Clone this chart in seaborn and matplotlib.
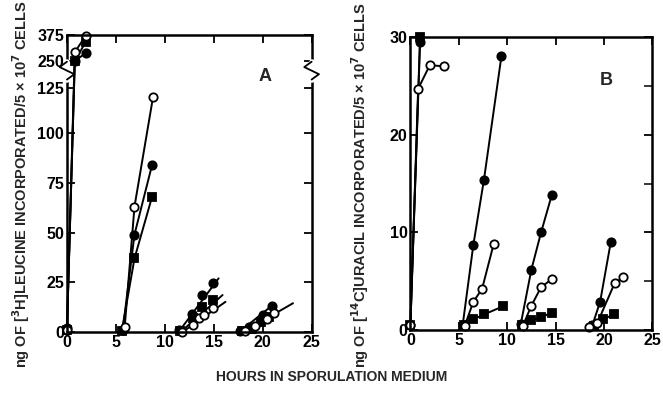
import numpy as np
import pandas as pd
import matplotlib
matplotlib.use("Agg")
import matplotlib.pyplot as plt
import seaborn as sns
from matplotlib.ticker import FixedLocator

sns.set_theme(style="ticks")
plt.rcParams["font.family"] = ["Liberation Sans", "DejaVu Sans"]
plt.rcParams["font.weight"] = "bold"
plt.rcParams["mathtext.default"] = "bf"

## Data (hours, ng incorporated)
# Panel A, [3H]leucine -- one list per pulse group
a_open_x = [[0, 0.8, 1.9], [5.9, 6.9, 8.8], [11.8, 12.9, 13.5, 14.0, 14.9], [18.2, 19.2, 20.4, 21.2]]
a_open_y = [[1, 293, 370], [2.5, 63, 120], [0, 3.5, 7, 8.5, 12], [0.3, 3, 6.5, 9.5]]
a_fill_x = [[0, 0.8, 1.9], [5.7, 6.9, 8.7], [11.4, 12.8, 13.8, 14.9], [17.7, 18.6, 20.0, 21.0]]
a_fill_y = [[2, 250, 288], [1, 49, 84], [1, 9, 18.5, 24.5], [0.5, 2.5, 8.5, 13]]
a_sq_x = [[0, 0.8, 1.9], [5.6, 6.9, 8.7], [11.6, 12.9, 13.8, 14.9], [17.9, 18.9, 19.8, 20.6]]
a_sq_y = [[1, 250, 340], [0.5, 37, 68], [0.5, 7, 12.5, 16], [0.5, 1.5, 5, 7.5]]

# fitted lines drawn through the late groups in A (start, end)
a_fit_x = [[11.4, 15.5], [11.6, 15.9], [11.8, 16.2], [17.6, 21.0], [18.0, 23.1]]
a_fit_y = [[0, 27], [0, 18.6], [0, 15.2], [0, 13.5], [0, 14.5]]

# Panel B, [14C]uracil
b_open_x = [[0, 0.8, 2.0, 3.5], [5.6, 6.5, 7.4, 8.6], [11.6, 12.5, 13.5, 14.6], [18.4, 19.3, 21.1, 22.0]]
b_open_y = [[0.5, 24.7, 27.1, 27.0], [0.4, 2.9, 4.2, 8.8], [0.4, 2.5, 4.4, 5.2], [0.3, 0.7, 4.8, 5.4]]
b_fill_x = [[0, 1.0], [5.4, 6.5, 7.6, 9.4], [11.4, 12.5, 13.5, 14.6], [18.8, 19.6, 20.7]]
b_fill_y = [[0.5, 29.5], [0.5, 8.7, 15.4, 28.0], [0.6, 6.2, 10.0, 13.8], [0.5, 2.9, 9.0]]
b_sq_x = [[0, 1.0], [5.5, 6.5, 7.6, 9.6], [11.5, 12.5, 13.5, 14.6], [19.0, 19.9, 21.0]]
b_sq_y = [[0.5, 30], [0.5, 1.1, 1.6, 2.45], [0.5, 1.0, 1.3, 1.8], [0.4, 1.1, 1.6]]

x_ticks = [0, 5, 10, 15, 20, 25]
a_yticks = [0, 25, 50, 75, 100, 125, 250, 375]
b_yticks = [0, 10, 20, 30]

# broken y axis of panel A: linear to 125, compressed above
brk_data = [0, 100, 125, 250, 375]
brk_disp = [0, 100, 122.7, 136.1, 149.2]


def fwd(v):
    return np.interp(v, brk_data, brk_disp)


def inv(v):
    return np.interp(v, brk_disp, brk_data)


fig = plt.figure(figsize=(6.63, 3.93), dpi=100)
axA = fig.add_axes([0.101, 0.155, 0.369, 0.756])
axB = fig.add_axes([0.619, 0.160, 0.365, 0.746])

kw = dict(color="black", linewidth=1.4, markersize=6, markeredgewidth=1.3,
          sort=False, estimator=None, clip_on=False, legend=False)


def draw(ax, xs, ys, marker, face, lines=True):
    for gx, gy in zip(xs, ys):
        df = pd.DataFrame({"h": gx, "v": gy})
        sns.lineplot(data=df, x="h", y="v", ax=ax, marker=marker,
                     markerfacecolor=face, markeredgecolor="black",
                     linestyle="-" if lines else "none", **kw)


axA.set_yscale("function", functions=(fwd, inv))
# early groups connected, late groups on fitted lines
draw(axA, a_sq_x[:2], a_sq_y[:2], "s", "black")
draw(axA, a_fill_x[:2], a_fill_y[:2], "o", "black")
draw(axA, a_open_x[:2], a_open_y[:2], "o", "white")
for fx, fy in zip(a_fit_x, a_fit_y):
    sns.lineplot(x=fx, y=fy, ax=axA, color="black", linewidth=1.4, sort=False,
                 estimator=None)
draw(axA, a_sq_x[2:], a_sq_y[2:], "s", "black", lines=False)
draw(axA, a_fill_x[2:], a_fill_y[2:], "o", "black", lines=False)
draw(axA, a_open_x[2:], a_open_y[2:], "o", "white", lines=False)

draw(axB, b_sq_x, b_sq_y, "s", "black")
draw(axB, b_fill_x, b_fill_y, "o", "black")
draw(axB, b_open_x, b_open_y, "o", "white")

axA.set_ylim(0, 375)
axA.set_yticks(a_yticks)
axA.set_yticklabels([str(t) for t in a_yticks])
axB.set_ylim(0, 30)
axB.set_yticks(b_yticks)
axB.yaxis.set_minor_locator(FixedLocator([5, 15, 25]))

for ax in (axA, axB):
    ax.set_xlim(0, 25)
    ax.set_xticks(x_ticks)
    ax.set_xlabel("")
    ax.set_ylabel("")
    for s in ax.spines.values():
        s.set_linewidth(1.8)
        s.set_color("black")
    ax.tick_params(direction="in", length=6, width=1.3, top=True, right=True,
                   labelsize=11.5, pad=2, colors="black")
    for lab in ax.get_xticklabels() + ax.get_yticklabels():
        lab.set_fontweight("bold")
axB.tick_params(which="minor", direction="in", length=6, width=1.3,
                left=False, right=True)

# axis break marks on panel A
yb = 0.88
for xb in (0.0, 1.0):
    axA.plot([xb, xb], [yb - 0.03, yb + 0.03], color="white", linewidth=4,
             transform=axA.transAxes, clip_on=False, zorder=5)
    axA.plot([xb, xb - 0.03, xb + 0.03, xb],
             [yb + 0.03, yb + 0.012, yb - 0.012, yb - 0.03],
             color="black", linewidth=1.3, transform=axA.transAxes,
             clip_on=False, zorder=6)

axA.text(0.81, 0.86, "A", transform=axA.transAxes, fontsize=13,
         fontweight="bold", ha="center", va="center")
axB.text(0.81, 0.85, "B", transform=axB.transAxes, fontsize=13,
         fontweight="bold", ha="center", va="center")

fig.text(0.032, 0.53, "ng OF [$^3$H]LEUCINE INCORPORATED/5 × 10$^7$ CELLS",
         rotation=90, ha="center", va="center", fontsize=10.5, fontweight="bold")
fig.text(0.543, 0.53, "ng OF [$^{14}$C]URACIL INCORPORATED/5 × 10$^7$ CELLS",
         rotation=90, ha="center", va="center", fontsize=10.5, fontweight="bold")
fig.text(0.5, 0.04, "HOURS IN SPORULATION MEDIUM", ha="center", va="center",
         fontsize=10, fontweight="bold")

fig.savefig("out.png", dpi=100, facecolor="white")
